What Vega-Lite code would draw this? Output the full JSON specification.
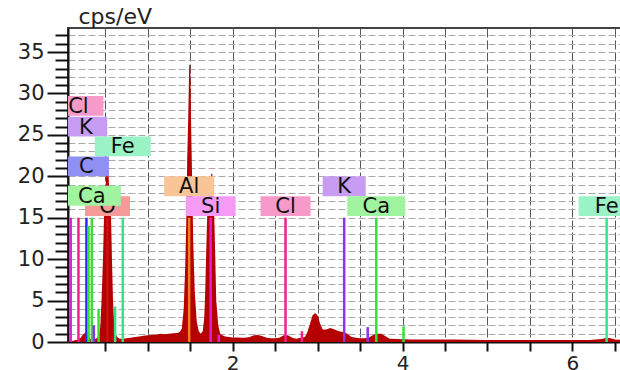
{
  "$schema": "https://vega.github.io/schema/vega-lite/v6.json",
  "autosize": {"type": "none"},
  "padding": {"left": 68, "top": 28, "right": 0, "bottom": 28},
  "width": 554,
  "height": 314,
  "background": "white",
  "config": {
    "view": {"stroke": "#444", "strokeWidth": 2},
    "font": "DejaVu Sans"
  },
  "datasets": {
    "spectrum": [
      {"kev": 0.06, "cps": 0.1}, {"kev": 0.1, "cps": 0.1}, {"kev": 0.14, "cps": 0.2}, {"kev": 0.18, "cps": 0.3},
      {"kev": 0.21, "cps": 0.5}, {"kev": 0.23, "cps": 0.8}, {"kev": 0.25, "cps": 1.0}, {"kev": 0.27, "cps": 1.2},
      {"kev": 0.29, "cps": 0.9}, {"kev": 0.31, "cps": 0.5}, {"kev": 0.33, "cps": 0.3}, {"kev": 0.36, "cps": 0.3},
      {"kev": 0.39, "cps": 0.4}, {"kev": 0.42, "cps": 0.7}, {"kev": 0.44, "cps": 1.8}, {"kev": 0.455, "cps": 5},
      {"kev": 0.472, "cps": 10}, {"kev": 0.484, "cps": 15}, {"kev": 0.5, "cps": 18}, {"kev": 0.514, "cps": 21},
      {"kev": 0.525, "cps": 22.2}, {"kev": 0.537, "cps": 20.5}, {"kev": 0.55, "cps": 17}, {"kev": 0.567, "cps": 15},
      {"kev": 0.578, "cps": 10}, {"kev": 0.59, "cps": 5}, {"kev": 0.605, "cps": 2}, {"kev": 0.62, "cps": 1.0},
      {"kev": 0.64, "cps": 0.6}, {"kev": 0.667, "cps": 0.4}, {"kev": 0.7, "cps": 0.4}, {"kev": 0.75, "cps": 0.45},
      {"kev": 0.8, "cps": 0.5}, {"kev": 0.85, "cps": 0.6}, {"kev": 0.9, "cps": 0.65}, {"kev": 0.95, "cps": 0.75},
      {"kev": 1.0, "cps": 0.8}, {"kev": 1.05, "cps": 0.85}, {"kev": 1.1, "cps": 0.9}, {"kev": 1.15, "cps": 1.0},
      {"kev": 1.2, "cps": 0.95}, {"kev": 1.25, "cps": 1.0}, {"kev": 1.3, "cps": 1.05}, {"kev": 1.35, "cps": 1.1},
      {"kev": 1.375, "cps": 1.2}, {"kev": 1.4, "cps": 1.6}, {"kev": 1.423, "cps": 4}, {"kev": 1.44, "cps": 9},
      {"kev": 1.452, "cps": 14}, {"kev": 1.464, "cps": 22}, {"kev": 1.476, "cps": 27}, {"kev": 1.488, "cps": 33.5},
      {"kev": 1.5, "cps": 33.4}, {"kev": 1.511, "cps": 25.6}, {"kev": 1.523, "cps": 19}, {"kev": 1.535, "cps": 12},
      {"kev": 1.553, "cps": 6}, {"kev": 1.576, "cps": 2.5}, {"kev": 1.6, "cps": 1.3}, {"kev": 1.623, "cps": 1.0},
      {"kev": 1.647, "cps": 1.3}, {"kev": 1.665, "cps": 3}, {"kev": 1.676, "cps": 6}, {"kev": 1.688, "cps": 11},
      {"kev": 1.7, "cps": 15.5}, {"kev": 1.712, "cps": 17}, {"kev": 1.724, "cps": 18}, {"kev": 1.736, "cps": 19},
      {"kev": 1.747, "cps": 20.3}, {"kev": 1.759, "cps": 20.3}, {"kev": 1.771, "cps": 18}, {"kev": 1.783, "cps": 15},
      {"kev": 1.795, "cps": 10}, {"kev": 1.806, "cps": 5}, {"kev": 1.83, "cps": 2}, {"kev": 1.853, "cps": 1},
      {"kev": 1.9, "cps": 0.7}, {"kev": 1.95, "cps": 0.6}, {"kev": 2.0, "cps": 0.55}, {"kev": 2.05, "cps": 0.55},
      {"kev": 2.1, "cps": 0.5}, {"kev": 2.15, "cps": 0.5}, {"kev": 2.2, "cps": 0.6}, {"kev": 2.25, "cps": 0.8},
      {"kev": 2.3, "cps": 0.85}, {"kev": 2.35, "cps": 0.7}, {"kev": 2.4, "cps": 0.5}, {"kev": 2.45, "cps": 0.45},
      {"kev": 2.5, "cps": 0.45}, {"kev": 2.55, "cps": 0.5}, {"kev": 2.6, "cps": 0.8}, {"kev": 2.65, "cps": 0.8},
      {"kev": 2.7, "cps": 0.5}, {"kev": 2.75, "cps": 0.4}, {"kev": 2.8, "cps": 0.5}, {"kev": 2.85, "cps": 0.6},
      {"kev": 2.88, "cps": 1.2}, {"kev": 2.91, "cps": 2.2}, {"kev": 2.94, "cps": 3.2}, {"kev": 2.97, "cps": 3.5},
      {"kev": 3.0, "cps": 3.2}, {"kev": 3.03, "cps": 2.2}, {"kev": 3.06, "cps": 1.5}, {"kev": 3.1, "cps": 1.5},
      {"kev": 3.15, "cps": 1.7}, {"kev": 3.2, "cps": 1.5}, {"kev": 3.25, "cps": 1.3}, {"kev": 3.3, "cps": 1.2},
      {"kev": 3.35, "cps": 1.0}, {"kev": 3.4, "cps": 0.6}, {"kev": 3.45, "cps": 0.5}, {"kev": 3.5, "cps": 0.45},
      {"kev": 3.55, "cps": 0.45}, {"kev": 3.6, "cps": 0.5}, {"kev": 3.65, "cps": 0.8}, {"kev": 3.7, "cps": 1.0},
      {"kev": 3.75, "cps": 1.0}, {"kev": 3.8, "cps": 0.7}, {"kev": 3.85, "cps": 0.4}, {"kev": 3.95, "cps": 0.35},
      {"kev": 4.1, "cps": 0.3}, {"kev": 4.3, "cps": 0.3}, {"kev": 4.6, "cps": 0.3}, {"kev": 5.0, "cps": 0.25},
      {"kev": 5.4, "cps": 0.25}, {"kev": 5.8, "cps": 0.25}, {"kev": 6.2, "cps": 0.25}, {"kev": 6.35, "cps": 0.35},
      {"kev": 6.4, "cps": 0.5}, {"kev": 6.45, "cps": 0.45}, {"kev": 6.5, "cps": 0.3}, {"kev": 6.585, "cps": 0.25}
    ],
    "lines": [
      {"el": "Si", "kev": 0.092, "h": 15},
      {"el": "Cl", "kev": 0.183, "h": 15},
      {"el": "C", "kev": 0.277, "h": 15},
      {"el": "Ca", "kev": 0.302, "h": 14},
      {"el": "Ca", "kev": 0.341, "h": 15},
      {"el": "K", "kev": 0.364, "h": 2.0},
      {"el": "Ca", "kev": 0.42, "h": 4.0},
      {"el": "O", "kev": 0.525, "h": 15},
      {"el": "Fe", "kev": 0.615, "h": 4.3},
      {"el": "Fe", "kev": 0.705, "h": 15},
      {"el": "Al", "kev": 1.487, "h": 15},
      {"el": "Si", "kev": 1.74, "h": 15},
      {"el": "Si", "kev": 1.836, "h": 0.9},
      {"el": "Cl", "kev": 2.622, "h": 15},
      {"el": "Cl", "kev": 2.815, "h": 1.3},
      {"el": "K", "kev": 3.313, "h": 15},
      {"el": "K", "kev": 3.59, "h": 1.8},
      {"el": "Ca", "kev": 3.691, "h": 15},
      {"el": "Ca", "kev": 4.012, "h": 1.9},
      {"el": "Fe", "kev": 6.404, "h": 15}
    ],
    "labels": [
      {"el": "Cl", "kev": 0.183, "lvl": 28.5},
      {"el": "K", "kev": 0.27, "lvl": 26.0},
      {"el": "Fe", "kev": 0.705, "lvl": 23.6},
      {"el": "C", "kev": 0.277, "lvl": 21.2},
      {"el": "O", "kev": 0.525, "lvl": 16.4},
      {"el": "Al", "kev": 1.487, "lvl": 18.8},
      {"el": "Si", "kev": 1.74, "lvl": 16.4},
      {"el": "Cl", "kev": 2.622, "lvl": 16.4},
      {"el": "K", "kev": 3.313, "lvl": 18.8},
      {"el": "Ca", "kev": 3.691, "lvl": 16.4},
      {"el": "Fe", "kev": 6.404, "lvl": 16.4},
      {"el": "Ca", "kev": 0.341, "lvl": 17.65}
    ]
  },
  "layer": [
    {
      "data": {"name": "spectrum"},
      "mark": {"type": "area", "color": "#b50000", "clip": true},
      "encoding": {
        "x": {
          "field": "kev", "type": "quantitative",
          "scale": {"domain": [0.06, 6.585], "nice": false, "zero": false},
          "axis": {
            "title": null,
            "values": [0.5, 1, 1.5, 2, 2.5, 3, 3.5, 4, 4.5, 5, 5.5, 6, 6.5],
            "tickCount": 100,
            "format": "~g",
            "labelExpr": "datum.value % 2 === 0 ? datum.label : ''",
            "labelFont": "DejaVu Sans", "labelFontSize": 20, "labelColor": "#222",
            "labelPadding": 2, "labelOverlap": false, "labelFlush": false,
            "tickSize": 9, "tickWidth": 2, "tickColor": "#111",
            "domainColor": "#111", "domainWidth": 2,
            "grid": true, "gridColor": "#555", "gridDash": [9, 3], "gridWidth": 1
          }
        },
        "y": {
          "field": "cps", "type": "quantitative",
          "scale": {"domain": [0, 37.9], "nice": false},
          "axis": {
            "title": "cps/eV", "titleAngle": 0, "titleAlign": "left", "titleBaseline": "alphabetic",
            "titleX": 10, "titleY": -5, "titleFont": "DejaVu Sans", "titleFontSize": 22,
            "titleFontWeight": "normal", "titleColor": "#222",
            "values": [0, 1, 2, 3, 4, 5, 6, 7, 8, 9, 10, 11, 12, 13, 14, 15, 16, 17, 18, 19, 20, 21, 22, 23, 24, 25, 26, 27, 28, 29, 30, 31, 32, 33, 34, 35, 36, 37],
            "tickCount": 100,
            "format": "d",
            "labelExpr": "datum.value % 5 === 0 ? datum.label : ''",
            "labelFont": "DejaVu Sans", "labelFontSize": 21, "labelColor": "#222",
            "labelPadding": 3, "labelOverlap": false,
            "tickSize": {"condition": {"test": "datum.value % 5 === 0", "value": 21}, "value": 13},
            "tickWidth": 2, "tickColor": "#111",
            "domainColor": "#111", "domainWidth": 2,
            "grid": true, "gridColor": "#aaa", "gridDash": [7, 3], "gridWidth": 1
          }
        }
      }
    },
    {
      "data": {"name": "lines"},
      "mark": {"type": "rule", "strokeWidth": 2.5, "clip": true},
      "encoding": {
        "x": {"field": "kev", "type": "quantitative"},
        "y": {"field": "h", "type": "quantitative"},
        "y2": {"datum": 0},
        "stroke": {
          "field": "el", "type": "nominal", "legend": null,
          "scale": {
            "domain": ["Cl", "K", "Fe", "C", "Ca", "O", "Al", "Si"],
            "range": ["#f2208e", "#9030f0", "#33e58a", "#2a2af5", "#35e035", "#cc1010", "#f08020", "#e020d0"]
          }
        }
      }
    },
    {
      "data": {"name": "labels"},
      "transform": [{"filter": "!(datum.el === 'Ca' && datum.kev < 1)"}],
      "layer": [
        {
          "mark": {"type": "point", "filled": true, "opacity": 1, "size": 400, "strokeWidth": 0, "clip": true},
          "encoding": {
            "x": {"field": "kev", "type": "quantitative"},
            "y": {"field": "lvl", "type": "quantitative"},
            "fill": {
              "field": "el", "type": "nominal", "legend": null,
              "scale": {
                "domain": ["Cl", "K", "Fe", "C", "Ca", "O", "Al", "Si"],
                "range": ["#f79ac9", "#c89cf3", "#9af3c4", "#9090f4", "#a0f4a0", "#f59a98", "#f9c597", "#f59bf5"]
              }
            },
            "shape": {
              "field": "el", "type": "nominal", "legend": null,
              "scale": {
                "domain": ["Cl", "K", "Fe", "C", "Ca", "O", "Al", "Si"],
                "range": [
                  "M-2.5,-0.99H2.5V0.99H-2.5Z",
                  "M-2.15,-0.99H2.15V0.99H-2.15Z",
                  "M-2.8,-0.99H2.8V0.99H-2.8Z",
                  "M-2.25,-0.99H2.25V0.99H-2.25Z",
                  "M-2.9,-0.99H2.9V0.99H-2.9Z",
                  "M-2.25,-0.99H2.25V0.99H-2.25Z",
                  "M-2.5,-0.99H2.5V0.99H-2.5Z",
                  "M-2.5,-0.99H2.5V0.99H-2.5Z"
                ]
              }
            }
          }
        },
        {
          "mark": {"type": "text", "font": "DejaVu Sans", "fontSize": 21, "color": "#111", "baseline": "middle", "align": "center", "dy": 1, "clip": true},
          "encoding": {
            "x": {"field": "kev", "type": "quantitative"},
            "y": {"field": "lvl", "type": "quantitative"},
            "text": {"field": "el", "type": "nominal"}
          }
        }
      ]
    },
    {
      "data": {"name": "labels"},
      "transform": [{"filter": "datum.el === 'Ca' && datum.kev < 1"}],
      "layer": [
        {
          "mark": {"type": "point", "filled": true, "opacity": 1, "size": 400, "strokeWidth": 0, "clip": true},
          "encoding": {
            "x": {"field": "kev", "type": "quantitative"},
            "y": {"field": "lvl", "type": "quantitative"},
            "fill": {"field": "el", "type": "nominal", "legend": null},
            "shape": {"field": "el", "type": "nominal", "legend": null}
          }
        },
        {
          "mark": {"type": "text", "font": "DejaVu Sans", "fontSize": 21, "color": "#111", "baseline": "middle", "align": "center", "dy": 1, "clip": true},
          "encoding": {
            "x": {"field": "kev", "type": "quantitative"},
            "y": {"field": "lvl", "type": "quantitative"},
            "text": {"field": "el", "type": "nominal"}
          }
        }
      ]
    }
  ]
}
